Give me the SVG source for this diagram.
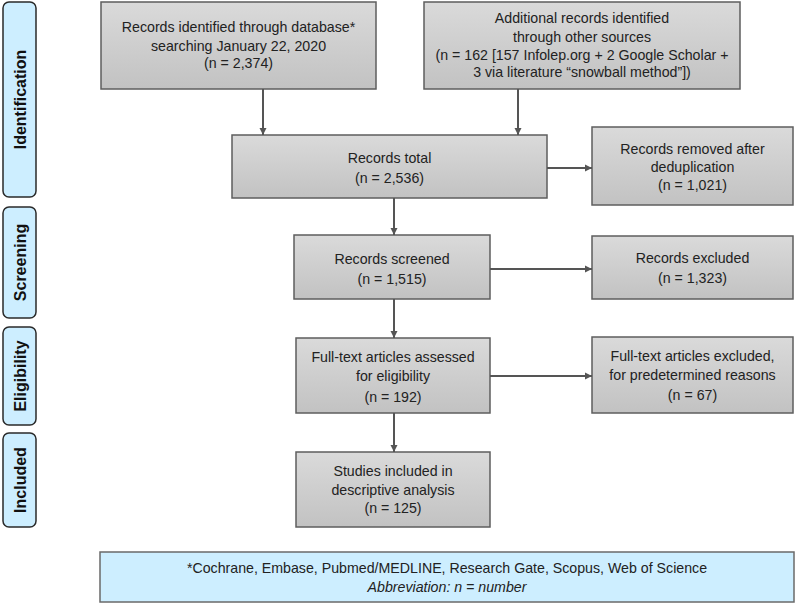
<svg xmlns="http://www.w3.org/2000/svg" width="797" height="606" viewBox="0 0 797 606">
<defs>
<linearGradient id="g" x1="0" y1="0" x2="0" y2="1">
<stop offset="0" stop-color="#dadada"/>
<stop offset="1" stop-color="#c2c2c2"/>
</linearGradient>
<marker id="ah" markerWidth="8" markerHeight="8" refX="7" refY="4" orient="auto" markerUnits="userSpaceOnUse">
<path d="M0,0.5 L7,4 L0,7.5 Z" fill="#555"/>
</marker>
<style>
.box{fill:url(#g);stroke:#5e5e5e;stroke-width:1.5}
.tab{fill:#cdeeff;stroke:#2a2a2a;stroke-width:1.5}
.foot{fill:#cdeeff;stroke:#6a6a6a;stroke-width:1.5}
.t{font-family:"Liberation Sans",Arial,sans-serif;font-size:14.2px;fill:#222;text-anchor:middle}
.tt{font-family:"Liberation Sans",Arial,sans-serif;font-size:16px;font-weight:bold;fill:#111;text-anchor:middle}
.c{stroke:#555;stroke-width:2;fill:none;marker-end:url(#ah)}
</style>
</defs>
<g id="tab-identification"><rect class="tab" x="3" y="2" width="33" height="195" rx="6"/><text class="tt" transform="translate(26,99.5) rotate(-90)">Identification</text></g>
<g id="tab-screening"><rect class="tab" x="3" y="207" width="33" height="111" rx="6"/><text class="tt" transform="translate(26,262.5) rotate(-90)">Screening</text></g>
<g id="tab-eligibility"><rect class="tab" x="3" y="327" width="33" height="98" rx="6"/><text class="tt" transform="translate(26,376) rotate(-90)">Eligibility</text></g>
<g id="tab-included"><rect class="tab" x="3" y="433" width="33" height="94" rx="6"/><text class="tt" transform="translate(26,480) rotate(-90)">Included</text></g>

<g id="n-db"><rect class="box" x="101" y="2" width="275" height="87"/>
<text class="t" x="238.5" y="32">Records identified through database*</text>
<text class="t" x="238.5" y="51">searching January 22, 2020</text>
<text class="t" x="238.5" y="68">(n = 2,374)</text></g>
<g id="n-other"><rect class="box" x="424" y="2" width="316" height="87"/>
<text class="t" x="582" y="23">Additional records identified</text>
<text class="t" x="582" y="42">through other sources</text>
<text class="t" x="582" y="60">(n = 162 [157 Infolep.org + 2 Google Scholar +</text>
<text class="t" x="582" y="77">3 via literature “snowball method”])</text></g>
<g id="n-total"><rect class="box" x="232" y="135" width="315" height="63"/>
<text class="t" x="389.5" y="163">Records total</text>
<text class="t" x="389.5" y="183">(n = 2,536)</text></g>
<g id="n-dedup"><rect class="box" x="592" y="127" width="201" height="78"/>
<text class="t" x="692.5" y="154">Records removed after</text>
<text class="t" x="692.5" y="172">deduplication</text>
<text class="t" x="692.5" y="190">(n = 1,021)</text></g>
<g id="n-screened"><rect class="box" x="294" y="235" width="196" height="64"/>
<text class="t" x="392" y="264">Records screened</text>
<text class="t" x="392" y="284">(n = 1,515)</text></g>
<g id="n-excluded"><rect class="box" x="592" y="236" width="201" height="63"/>
<text class="t" x="692.5" y="263">Records excluded</text>
<text class="t" x="692.5" y="283">(n = 1,323)</text></g>
<g id="n-fulltext"><rect class="box" x="296" y="338" width="194" height="75"/>
<text class="t" x="393" y="362">Full-text articles assessed</text>
<text class="t" x="393" y="381">for eligibility</text>
<text class="t" x="393" y="402">(n = 192)</text></g>
<g id="n-ftexcluded"><rect class="box" x="592" y="337" width="201" height="76"/>
<text class="t" x="692.5" y="361">Full-text articles excluded,</text>
<text class="t" x="692.5" y="380">for predetermined reasons</text>
<text class="t" x="692.5" y="400">(n = 67)</text></g>
<g id="n-included"><rect class="box" x="296" y="452" width="194" height="75"/>
<text class="t" x="393" y="476">Studies included in</text>
<text class="t" x="393" y="495">descriptive analysis</text>
<text class="t" x="393" y="513">(n = 125)</text></g>
<g id="n-footer"><rect class="foot" x="100" y="552" width="694" height="50"/>
<text class="t" x="447" y="573">*Cochrane, Embase, Pubmed/MEDLINE, Research Gate, Scopus, Web of Science</text>
<text class="t" x="447" y="592" font-style="italic">Abbreviation: n = number</text></g>

<g id="connectors">
<line class="c" x1="263" y1="89" x2="263" y2="135"/>
<line class="c" x1="518" y1="89" x2="518" y2="135"/>
<line class="c" x1="547" y1="168" x2="592" y2="168"/>
<line class="c" x1="394" y1="198" x2="394" y2="235"/>
<line class="c" x1="490" y1="269" x2="592" y2="269"/>
<line class="c" x1="394" y1="299" x2="394" y2="338"/>
<line class="c" x1="490" y1="376" x2="592" y2="376"/>
<line class="c" x1="394" y1="413" x2="394" y2="452"/>
</g>
</svg>
